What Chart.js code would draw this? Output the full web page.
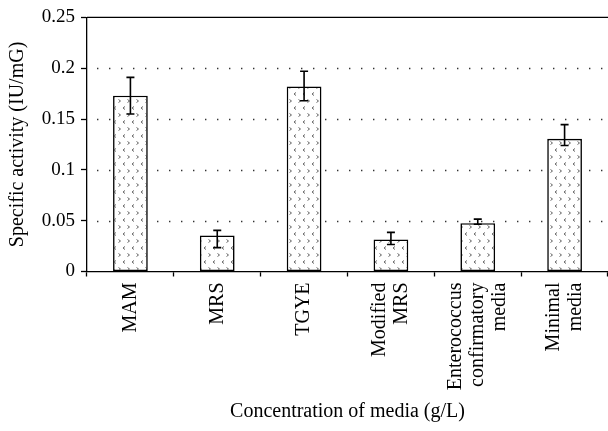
<!DOCTYPE html>
<html>
<head>
<meta charset="utf-8">
<script src="https://cdn.jsdelivr.net/npm/chart.js@4"></script>
<style>
    html, body { margin: 0; padding: 0; background: #fff; }
    #wrap { width: 608px; height: 431px; position: relative; }
</style>
</head>
<body>
<div id="wrap"><canvas id="activityChart"></canvas></div>
<script>
// Specific activity by growth medium
const categories = ['MAM', 'MRS', 'TGYE', ['Modified', 'MRS'], ['Enterococcus', 'confirmatory', 'media'], ['Minimal', 'media']];
const activity = [0.173, 0.0355, 0.182, 0.0315, 0.0475, 0.1305];
const errorUp = [0.018, 0.005, 0.015, 0.007, 0.004, 0.014];
const errorDown = [0.018, 0.012, 0.014, 0.005, 0.001, 0.0065];
const yTicks = [0, 0.05, 0.1, 0.15, 0.2, 0.25];

const SERIF = '"Liberation Serif", "DejaVu Serif", serif';
const LABEL_SIZE = 20;
const LABEL_LINE = 22;

// small chevron fill like the original figure
function makePattern() {
    const p = document.createElement('canvas');
    p.width = 9;
    p.height = 14;
    const c = p.getContext('2d');
    c.fillStyle = '#fff';
    c.fillRect(0, 0, 9, 14);
    c.strokeStyle = '#666';
    c.lineWidth = 1;
    c.beginPath();
    c.moveTo(1.5, 1.5); c.lineTo(3.5, 3); c.lineTo(1.5, 4.5);
    c.moveTo(8, 8.5); c.lineTo(6, 10); c.lineTo(8, 11.5);
    c.stroke();
    return c.createPattern(p, 'repeat');
}

const gridAndErrors = {
    id: 'gridAndErrors',
    beforeDatasetsDraw(chart) {
        const { ctx, chartArea, scales } = chart;
        ctx.save();
        ctx.strokeStyle = '#333';
        ctx.lineWidth = 1.4;
        ctx.setLineDash([1.4, 10.6]);
        yTicks.slice(1, -1).forEach(v => {
            const y = Math.round(scales.y.getPixelForValue(v)) + 0.5;
            ctx.beginPath();
            ctx.moveTo(chartArea.left + 10, y);
            ctx.lineTo(chartArea.right, y);
            ctx.stroke();
        });
        ctx.setLineDash([]);
        ctx.strokeStyle = '#000';
        ctx.lineWidth = 1.3;
        const yTop = scales.y.getPixelForValue(yTicks[yTicks.length - 1]);
        ctx.beginPath();
        ctx.moveTo(chartArea.left, yTop);
        ctx.lineTo(chartArea.right, yTop);
        ctx.stroke();
        ctx.restore();
    },
    afterDatasetsDraw(chart) {
        const { ctx, scales } = chart;
        ctx.save();
        ctx.strokeStyle = '#000';
        ctx.lineWidth = 1.6;
        activity.forEach((v, i) => {
            const x = scales.x.getPixelForValue(i);
            const yHi = scales.y.getPixelForValue(v + errorUp[i]);
            const yLo = scales.y.getPixelForValue(v - errorDown[i]);
            ctx.beginPath();
            ctx.moveTo(x, yHi);
            ctx.lineTo(x, yLo);
            ctx.moveTo(x - 4, yHi);
            ctx.lineTo(x + 4, yHi);
            ctx.moveTo(x - 4, yLo);
            ctx.lineTo(x + 4, yLo);
            ctx.stroke();
        });
        ctx.restore();
    },
    // vertical category labels, lines centred on the bar
    afterDraw(chart) {
        const { ctx, scales } = chart;
        const x = scales.x;
        ctx.save();
        ctx.fillStyle = '#000';
        ctx.font = LABEL_SIZE + 'px ' + SERIF;
        ctx.textAlign = 'right';
        ctx.textBaseline = 'middle';
        categories.forEach((label, i) => {
            const lines = Array.isArray(label) ? label : [label];
            const cx = x.getPixelForValue(i);
            lines.forEach((line, j) => {
                const off = (j - (lines.length - 1) / 2) * LABEL_LINE;
                ctx.save();
                ctx.translate(cx + off, x.top + 11);
                ctx.rotate(-Math.PI / 2);
                ctx.fillText(line, 0, 0);
                ctx.restore();
            });
        });
        ctx.restore();
    }
};

new Chart(document.getElementById('activityChart'), {
    type: 'bar',
    data: {
        labels: categories,
        datasets: [{
            label: 'Specific activity',
            data: activity,
            backgroundColor: makePattern(),
            borderColor: '#000',
            borderWidth: 1.6,
            borderSkipped: false,
            barPercentage: 0.4,
            categoryPercentage: 1
        }]
    },
    options: {
        responsive: true,
        maintainAspectRatio: false,
        animation: false,
        devicePixelRatio: 1,
        layout: { padding: { top: 13, right: 0, left: 0, bottom: 0 } },
        plugins: {
            legend: { display: false },
            tooltip: { enabled: false }
        },
        scales: {
            x: {
                grid: {
                    display: true,
                    offset: true,
                    drawOnChartArea: false,
                    drawTicks: true,
                    tickLength: 5,
                    tickColor: '#000',
                    tickWidth: 1.3
                },
                border: { display: true, color: '#000', width: 1.3 },
                ticks: { display: false },
                title: {
                    display: true,
                    text: 'Concentration of media (g/L)',
                    color: '#000',
                    font: { family: SERIF, size: 20 },
                    padding: { top: 0, bottom: 7 }
                },
                afterFit(scale) {
                    scale.height = 159.5;
                    scale.paddingLeft = 0;
                    scale.paddingRight = 0;
                }
            },
            y: {
                min: 0,
                max: 0.25,
                afterBuildTicks(scale) {
                    scale.ticks = yTicks.map(v => ({ value: v }));
                },
                grid: {
                    drawOnChartArea: false,
                    drawTicks: true,
                    tickLength: 6,
                    tickColor: '#000',
                    tickWidth: 1.3
                },
                border: { display: true, color: '#000', width: 1.3 },
                ticks: {
                    color: '#000',
                    font: { family: SERIF, size: 19 },
                    padding: 6,
                    callback: v => String(v)
                },
                title: {
                    display: true,
                    text: 'Specific activity (IU/mG)',
                    color: '#000',
                    font: { family: SERIF, size: 20 },
                    padding: { top: 6, bottom: 0 }
                },
                afterFit(scale) { scale.width = 87; }
            }
        }
    },
    plugins: [gridAndErrors]
});
</script>
</body>
</html>
